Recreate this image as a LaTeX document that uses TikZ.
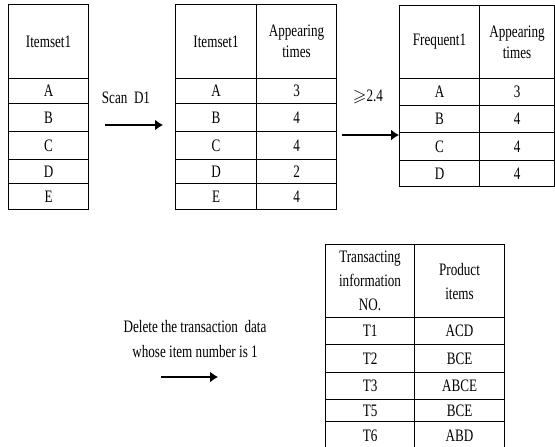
\documentclass[tikz,border=0pt]{standalone}
\usepackage{fontspec}
\setmainfont[FakeStretch=0.75]{Liberation Serif}
\usepackage{amssymb}
\usetikzlibrary{arrows.meta}
\tikzset{
  cell/.style={draw, line width=1.1pt, inner sep=0pt, anchor=north west, align=center},
  flow/.style={line width=1.4pt, -{Latex[length=8pt,width=11pt]}}
}

\begin{document}
\begin{tikzpicture}[x=1pt, y=-1pt, font=\fontsize{17.5}{21}\selectfont]
			%%%%% START %%%%%
			\useasboundingbox (0,0) rectangle (555,447);
			\clip (0,0) rectangle (555,447);
			
			% candidate itemsets
			\node[cell, minimum width=80, minimum height=74] (is0) at (8,4) {Itemset1};
			\foreach \txt/\y/\h [count=\i] in {A/78/25, B/103/28, C/131/28, D/159/24, E/183/26}
				\node[cell, minimum width=80, minimum height=\h] (is\i) at (8,\y) {\txt};
			
			% counted itemsets
			\node[cell, minimum width=81, minimum height=74] (sc0) at (175,4) {Itemset1};
			\node[cell, minimum width=80, minimum height=74] (ap0) at (256,4) {Appearing\\times};
			\foreach \txt/\n/\y/\h [count=\i] in {A/3/78/25, B/4/103/28, C/4/131/28, D/2/159/24, E/4/183/26}{
				\node[cell, minimum width=81, minimum height=\h] (sc\i) at (175,\y) {\txt};
				\node[cell, minimum width=80, minimum height=\h] (ap\i) at (256,\y) {\n};
			}
			
			% frequent itemsets
			\node[cell, minimum width=80, minimum height=73] (fr0) at (399,5) {Frequent1};
			\node[cell, minimum width=75, minimum height=73] (fa0) at (479,5) {Appearing\\times};
			\foreach \txt/\n/\y/\h [count=\i] in {A/3/78/27, B/4/105/27, C/4/132/28, D/4/160/26}{
				\node[cell, minimum width=80, minimum height=\h] (fr\i) at (399,\y) {\txt};
				\node[cell, minimum width=75, minimum height=\h] (fa\i) at (479,\y) {\n};
			}
			
			% transactions left
			\node[cell, minimum width=89, minimum height=73, font=\fontsize{17.5}{24}\selectfont] (tn0) at (325,244) {Transacting\\information\\NO.};
			\node[cell, minimum width=90, minimum height=73, font=\fontsize{17.5}{24}\selectfont] (tp0) at (414,244) {Product\\items};
			\foreach \txt/\n/\y/\h [count=\i] in {T1/ACD/317/27, T2/BCE/344/28, T3/ABCE/372/27, T5/BCE/399/22, T6/ABD/421/28}{
				\node[cell, minimum width=89, minimum height=\h] (tn\i) at (325,\y) {\txt};
				\node[cell, minimum width=90, minimum height=\h] (tp\i) at (414,\y) {\n};
			}
			
			% arrows and labels
			\node (scan) at (126,98) {Scan\ \ D1};
			\coordinate (s1) at (105,125);
			\coordinate (e1) at (163,125);
			\draw[flow] (s1) -- (e1);
			
			\node (minsup) at (368,97) {$\geqslant$2.4};
			\coordinate (s2) at (342,135);
			\coordinate (e2) at (399,135);
			\draw[flow] (s2) -- (e2);
			
			\node (del1) at (195,327) {Delete the transaction\ \ data};
			\node (del2) at (195,352) {whose item number is 1};
			\coordinate (s3) at (161,377);
			\coordinate (e3) at (218,377);
			\draw[flow] (s3) -- (e3);
			%%%%% END %%%%%
\end{tikzpicture}
\end{document}
